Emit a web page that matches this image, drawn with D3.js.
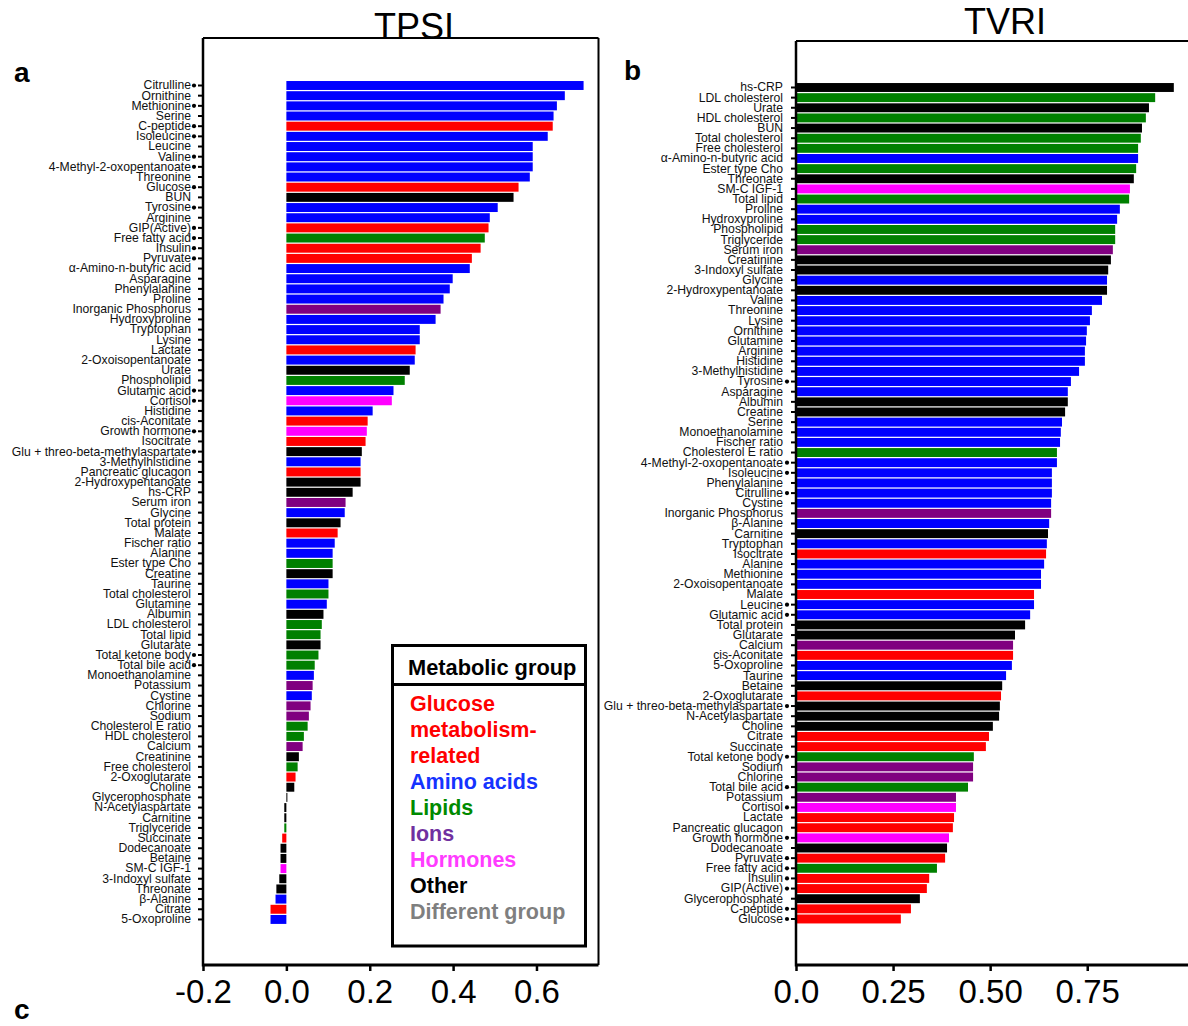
<!DOCTYPE html>
<html>
<head>
<meta charset="utf-8">
<script src="https://cdn.jsdelivr.net/npm/d3@7"></script>
<style>
  body { margin: 0; background: #fff; }
  svg { display: block; font-family: "Liberation Sans", Arial, sans-serif; }
</style>
</head>
<body>
<svg width="1188" height="1026"></svg>
<script>
// ---- data ----
var tpsiNames = ["Citrulline", "Ornithine", "Methionine", "Serine", "C-peptide", "Isoleucine", "Leucine", "Valine",
  "4-Methyl-2-oxopentanoate", "Threonine", "Glucose", "BUN", "Tyrosine", "Arginine", "GIP(Active)", "Free fatty acid",
  "Insulin", "Pyruvate", "\u03b1-Amino-n-butyric acid", "Asparagine", "Phenylalanine", "Proline", "Inorganic Phosphorus",
  "Hydroxyproline", "Tryptophan", "Lysine", "Lactate", "2-Oxoisopentanoate", "Urate", "Phospholipid", "Glutamic acid",
  "Cortisol", "Histidine", "cis-Aconitate", "Growth hormone", "Isocitrate", "Glu + threo-beta-methylaspartate",
  "3-Methylhistidine", "Pancreatic glucagon", "2-Hydroxypentanoate", "hs-CRP", "Serum iron", "Glycine", "Total protein",
  "Malate", "Fischer ratio", "Alanine", "Ester type Cho", "Creatine", "Taurine", "Total cholesterol", "Glutamine",
  "Albumin", "LDL cholesterol", "Total lipid", "Glutarate", "Total ketone body", "Total bile acid", "Monoethanolamine",
  "Potassium", "Cystine", "Chlorine", "Sodium", "Cholesterol E ratio", "HDL cholesterol", "Calcium", "Creatinine",
  "Free cholesterol", "2-Oxoglutarate", "Choline", "Glycerophosphate", "N-Acetylaspartate", "Carnitine", "Triglyceride",
  "Succinate", "Dodecanoate", "Betaine", "SM-C IGF-1", "3-Indoxyl sulfate", "Threonate", "\u03b2-Alanine", "Citrate",
  "5-Oxoproline"];
var tpsiValues = [0.713, 0.668, 0.649, 0.641, 0.639, 0.627, 0.591, 0.591, 0.591, 0.584, 0.557, 0.545, 0.507, 0.488,
  0.485, 0.476, 0.466, 0.445, 0.440, 0.399, 0.392, 0.377, 0.370, 0.358, 0.320, 0.320, 0.310, 0.308, 0.296, 0.284,
  0.257, 0.253, 0.207, 0.195, 0.193, 0.190, 0.181, 0.178, 0.178, 0.178, 0.159, 0.142, 0.140, 0.130, 0.123, 0.116,
  0.111, 0.111, 0.111, 0.101, 0.101, 0.097, 0.089, 0.085, 0.082, 0.082, 0.077, 0.068, 0.066, 0.063, 0.061, 0.058,
  0.054, 0.051, 0.042, 0.039, 0.030, 0.027, 0.022, 0.019, 0.002, -0.005, -0.005, -0.005, -0.010, -0.014, -0.014,
  -0.014, -0.017, -0.024, -0.026, -0.038, -0.038];
var tpsiMarked = ["Citrulline", "Methionine", "C-peptide", "Isoleucine", "Valine", "4-Methyl-2-oxopentanoate",
  "Glucose", "Tyrosine", "GIP(Active)", "Free fatty acid", "Insulin", "Pyruvate", "Glutamic acid", "Cortisol",
  "Growth hormone", "Glu + threo-beta-methylaspartate", "Total ketone body", "Total bile acid"];

var tvriNames = ["hs-CRP", "LDL cholesterol", "Urate", "HDL cholesterol", "BUN", "Total cholesterol",
  "Free cholesterol", "\u03b1-Amino-n-butyric acid", "Ester type Cho", "Threonate", "SM-C IGF-1", "Total lipid",
  "Proline", "Hydroxyproline", "Phospholipid", "Triglyceride", "Serum iron", "Creatinine", "3-Indoxyl sulfate",
  "Glycine", "2-Hydroxypentanoate", "Valine", "Threonine", "Lysine", "Ornithine", "Glutamine", "Arginine", "Histidine",
  "3-Methylhistidine", "Tyrosine", "Asparagine", "Albumin", "Creatine", "Serine", "Monoethanolamine", "Fischer ratio",
  "Cholesterol E ratio", "4-Methyl-2-oxopentanoate", "Isoleucine", "Phenylalanine", "Citrulline", "Cystine",
  "Inorganic Phosphorus", "\u03b2-Alanine", "Carnitine", "Tryptophan", "Isocitrate", "Alanine", "Methionine",
  "2-Oxoisopentanoate", "Malate", "Leucine", "Glutamic acid", "Total protein", "Glutarate", "Calcium", "cis-Aconitate",
  "5-Oxoproline", "Taurine", "Betaine", "2-Oxoglutarate", "Glu + threo-beta-methylaspartate", "N-Acetylaspartate",
  "Choline", "Citrate", "Succinate", "Total ketone body", "Sodium", "Chlorine", "Total bile acid", "Potassium",
  "Cortisol", "Lactate", "Pancreatic glucagon", "Growth hormone", "Dodecanoate", "Pyruvate", "Free fatty acid",
  "Insulin", "GIP(Active)", "Glycerophosphate", "C-peptide", "Glucose"];
var tvriValues = [0.973, 0.925, 0.909, 0.901, 0.891, 0.888, 0.881, 0.881, 0.876, 0.870, 0.860, 0.858, 0.834, 0.827,
  0.822, 0.822, 0.816, 0.811, 0.804, 0.801, 0.801, 0.788, 0.762, 0.757, 0.749, 0.747, 0.744, 0.744, 0.729, 0.708,
  0.700, 0.700, 0.693, 0.685, 0.682, 0.680, 0.672, 0.672, 0.659, 0.659, 0.659, 0.657, 0.657, 0.652, 0.649, 0.646,
  0.644, 0.639, 0.631, 0.631, 0.613, 0.613, 0.603, 0.590, 0.564, 0.559, 0.559, 0.556, 0.541, 0.531, 0.528, 0.525,
  0.523, 0.507, 0.497, 0.489, 0.458, 0.456, 0.456, 0.443, 0.412, 0.412, 0.407, 0.404, 0.394, 0.389, 0.384, 0.363,
  0.343, 0.337, 0.319, 0.296, 0.270];
var tvriMarked = ["Tyrosine", "4-Methyl-2-oxopentanoate", "Isoleucine", "Citrulline", "Leucine", "Glutamic acid",
  "Glu + threo-beta-methylaspartate", "Total ketone body", "Total bile acid", "Cortisol", "Growth hormone", "Pyruvate",
  "Free fatty acid", "Insulin", "GIP(Active)", "C-peptide", "Glucose"];

// metabolic groups
var glucoseGroup = ["C-peptide", "Glucose", "GIP(Active)", "Insulin", "Pyruvate", "Lactate", "cis-Aconitate",
  "Isocitrate", "Pancreatic glucagon", "Malate", "2-Oxoglutarate", "Succinate", "Citrate"];
var aminoGroup = ["Citrulline", "Ornithine", "Methionine", "Serine", "Isoleucine", "Leucine", "Valine",
  "4-Methyl-2-oxopentanoate", "Threonine", "Tyrosine", "Arginine", "\u03b1-Amino-n-butyric acid", "Asparagine",
  "Phenylalanine", "Proline", "Hydroxyproline", "Tryptophan", "Lysine", "2-Oxoisopentanoate", "Glutamic acid",
  "Histidine", "3-Methylhistidine", "Glycine", "Fischer ratio", "Alanine", "Taurine", "Glutamine", "Monoethanolamine",
  "Cystine", "\u03b2-Alanine", "5-Oxoproline"];
var lipidGroup = ["Free fatty acid", "Phospholipid", "Ester type Cho", "Total cholesterol", "LDL cholesterol",
  "Total lipid", "Total ketone body", "Total bile acid", "Cholesterol E ratio", "HDL cholesterol", "Free cholesterol",
  "Triglyceride"];
var ionGroup = ["Inorganic Phosphorus", "Serum iron", "Potassium", "Chlorine", "Sodium", "Calcium"];
var hormoneGroup = ["Cortisol", "Growth hormone", "SM-C IGF-1"];

var legendLines = [["Glucose", "metabolism-", "related"], ["Amino acids"], ["Lipids"], ["Ions"], ["Hormones"],
  ["Other"], ["Different group"]];
var legendColors = ["#ff0000", "#1533ff", "#008a00", "#7030a0", "#ff3cff", "#000000", "#7f7f7f"];

var tpsiTicks = [-0.2, 0.0, 0.2, 0.4, 0.6];
var tvriTicks = [0, 0.25, 0.5, 0.75];
var tvriTickLabels = ["0.0", "0.25", "0.50", "0.75"];

function barColor(name) {
  if (glucoseGroup.indexOf(name) !== -1) return "#ff0000";
  if (aminoGroup.indexOf(name) !== -1) return "#0000ff";
  if (lipidGroup.indexOf(name) !== -1) return "#008000";
  if (ionGroup.indexOf(name) !== -1) return "#800080";
  if (hormoneGroup.indexOf(name) !== -1) return "#ff00ff";
  return "#000000";
}

var svg = d3.select("svg");

// draw one panel of horizontal bars
function drawPanel(opt) {
  var rows = opt.names.map(function(n, i) { return { name: n, value: opt.values[i] }; });
  var n = rows.length;
  var y0 = opt.firstY - opt.step / 2;
  var y = d3.scaleBand().domain(opt.names)
      .range([y0, y0 + n * opt.step])
      .paddingInner(0.12).paddingOuter(0.06);
  var x = d3.scaleLinear().domain(opt.xDomain).range(opt.xRange);
  var g = svg.append("g");

  g.selectAll("rect.bar").data(rows).enter().append("rect")
      .attr("class", "bar")
      .attr("x", function(d) { return x(Math.min(0, d.value)); })
      .attr("y", function(d) { return y(d.name); })
      .attr("width", function(d) { return Math.max(1, Math.abs(x(d.value) - x(0))); })
      .attr("height", y.bandwidth())
      .attr("fill", function(d) { return barColor(d.name); });

  // y axis (labels + ticks)
  var yAxis = g.append("g")
      .attr("transform", "translate(" + opt.xRange[0] + ",0)")
      .call(d3.axisLeft(y).tickSize(5).tickSizeOuter(0).tickPadding(opt.labelPad));
  yAxis.select(".domain").remove();
  yAxis.selectAll(".tick line").attr("stroke", "#000").attr("stroke-width", 2);
  yAxis.selectAll(".tick text")
      .style("font-size", "12.2px")
      .style("font-family", "'Liberation Sans', Arial, sans-serif")
      .attr("fill", "#111");

  // marker dots
  g.selectAll("circle.mark").data(rows.filter(function(d) { return opt.marked.indexOf(d.name) !== -1; }))
    .enter().append("circle")
      .attr("class", "mark")
      .attr("cx", opt.xRange[0] - 9)
      .attr("cy", function(d) { return y(d.name) + y.bandwidth() / 2; })
      .attr("r", 2.1)
      .attr("fill", "#000");

  // x axis
  var xAxis = g.append("g")
      .attr("transform", "translate(0," + opt.axisY + ")")
      .call(d3.axisBottom(x).tickValues(opt.ticks).tickSize(6).tickSizeOuter(0).tickPadding(8.5)
        .tickFormat(opt.tickFormat));
  xAxis.select(".domain").remove();
  xAxis.selectAll(".tick line").attr("stroke", "#000").attr("stroke-width", 2.5);
  xAxis.selectAll(".tick text")
      .style("font-size", "33px")
      .style("font-family", "'Liberation Sans', Arial, sans-serif")
      .attr("fill", "#000");

  // frame
  var frame = g.append("g").attr("stroke", "#000").attr("fill", "none");
  frame.append("line").attr("x1", opt.xRange[0]).attr("x2", opt.frameRight)
      .attr("y1", opt.axisY).attr("y2", opt.axisY).attr("stroke-width", 2.8);
  frame.append("line").attr("x1", opt.xRange[0]).attr("x2", opt.xRange[0])
      .attr("y1", opt.topY).attr("y2", opt.axisY + 1.4).attr("stroke-width", 2.5);
  frame.append("line").attr("x1", opt.xRange[0]).attr("x2", opt.frameRight)
      .attr("y1", opt.topY).attr("y2", opt.topY).attr("stroke-width", 2);
  if (opt.rightBorder) {
    frame.append("line").attr("x1", opt.frameRight).attr("x2", opt.frameRight)
        .attr("y1", opt.topY).attr("y2", opt.axisY).attr("stroke-width", 2);
  }

  svg.append("text")
      .attr("x", opt.titleX).attr("y", opt.titleY)
      .attr("text-anchor", "middle")
      .style("font-size", "36px")
      .text(opt.title);
}

drawPanel({
  names: tpsiNames, values: tpsiValues, marked: tpsiMarked,
  firstY: 85.5, step: 10.17,
  xDomain: [-0.2, 0.75], xRange: [203, 599], frameRight: 598.5, rightBorder: true,
  axisY: 965, topY: 38, labelPad: 7,
  ticks: tpsiTicks, tickFormat: function(d) { return d.toFixed(1); },
  title: "TPSI", titleX: 414, titleY: 39
});

drawPanel({
  names: tvriNames, values: tvriValues, marked: tvriMarked,
  firstY: 87.5, step: 10.14,
  xDomain: [0, 1], xRange: [796, 1184.3], frameRight: 1188, rightBorder: false,
  axisY: 965, topY: 41, labelPad: 8,
  ticks: tvriTicks, tickFormat: function(d, i) { return tvriTickLabels[i]; },
  title: "TVRI", titleX: 1005, titleY: 34
});

// legend
var legend = svg.append("g");
legend.append("rect")
    .attr("x", 392.5).attr("y", 645.5).attr("width", 193).attr("height", 300.5)
    .attr("fill", "#fff").attr("stroke", "#000").attr("stroke-width", 3);
legend.append("line")
    .attr("x1", 392.5).attr("x2", 585.5).attr("y1", 684.5).attr("y2", 684.5)
    .attr("stroke", "#000").attr("stroke-width", 3);
legend.append("text")
    .attr("x", 408).attr("y", 675)
    .style("font-size", "21.8px").style("font-weight", "bold")
    .text("Metabolic group");
var lineNo = 0;
legendLines.forEach(function(lines, gi) {
  lines.forEach(function(t) {
    legend.append("text")
        .attr("x", 410).attr("y", 711 + lineNo * 26)
        .attr("fill", legendColors[gi])
        .style("font-size", "21.5px").style("font-weight", "bold")
        .text(t);
    lineNo++;
  });
});

// panel letters
[["a", 14, 82], ["b", 624, 80], ["c", 14, 1019]].forEach(function(p) {
  svg.append("text")
      .attr("x", p[1]).attr("y", p[2])
      .style("font-size", "28px").style("font-weight", "bold")
      .text(p[0]);
});
</script>
</body>
</html>
